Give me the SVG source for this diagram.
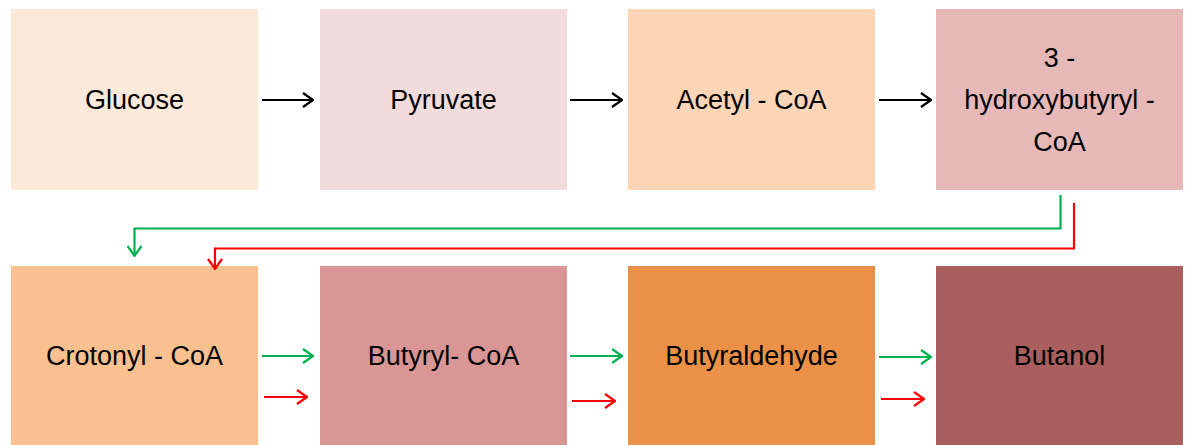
<svg xmlns="http://www.w3.org/2000/svg" width="1186" height="445" viewBox="0 0 1186 445">
<style>
.t{font-family:"Liberation Sans",Arial,sans-serif;font-size:27px;fill:#000;text-anchor:middle;dominant-baseline:central}
.c{fill:none;stroke-width:2.2}
.k{stroke:#000}
.g{stroke:#00B050}
.r{stroke:#FF0000}
</style>
<defs>
<marker id="ak" viewBox="0 0 12 16" refX="11" refY="8" markerWidth="12" markerHeight="16" markerUnits="userSpaceOnUse" orient="auto"><path d="M1,1 L11,8 L1,15" fill="none" stroke="#000" stroke-width="2.2"/></marker>
<marker id="ag" viewBox="0 0 12 16" refX="11" refY="8" markerWidth="12" markerHeight="16" markerUnits="userSpaceOnUse" orient="auto"><path d="M1,1 L11,8 L1,15" fill="none" stroke="#00B050" stroke-width="2.2"/></marker>
<marker id="ar" viewBox="0 0 12 16" refX="11" refY="8" markerWidth="12" markerHeight="16" markerUnits="userSpaceOnUse" orient="auto"><path d="M1,1 L11,8 L1,15" fill="none" stroke="#FF0000" stroke-width="2.2"/></marker>
</defs>
<rect width="1186" height="445" fill="#fff"/>
<g id="glucose"><rect x="11" y="9" width="247" height="181" fill="#FCE9DA"/><text class="t" x="134.5" y="100">Glucose</text></g>
<g id="pyruvate"><rect x="320" y="9" width="247" height="181" fill="#F2DCDB"/><text class="t" x="443.5" y="100">Pyruvate</text></g>
<g id="acetyl-coa"><rect x="628" y="9" width="247" height="181" fill="#FBD5B5"/><text class="t" x="751.5" y="100">Acetyl - CoA</text></g>
<g id="hydroxybutyryl-coa"><rect x="936" y="9" width="247" height="181" fill="#E6B9B8"/><text class="t" x="1059.5" y="58">3 -</text><text class="t" x="1059.5" y="100">hydroxybutyryl -</text><text class="t" x="1059.5" y="142">CoA</text></g>
<g id="crotonyl-coa"><rect x="11" y="266" width="247" height="181" fill="#FAC090"/><text class="t" x="134.5" y="356">Crotonyl - CoA</text></g>
<g id="butyryl-coa"><rect x="320" y="266" width="247" height="181" fill="#D99694"/><text class="t" x="443.5" y="356">Butyryl- CoA</text></g>
<g id="butyraldehyde"><rect x="628" y="266" width="247" height="181" fill="#EB9147"/><text class="t" x="751.5" y="356">Butyraldehyde</text></g>
<g id="butanol"><rect x="936" y="266" width="247" height="181" fill="#A95F5D"/><text class="t" x="1059.5" y="356">Butanol</text></g>
<g id="connectors">
<path class="c k" d="M262,100 H313" marker-end="url(#ak)"/>
<path class="c k" d="M570,100 H622" marker-end="url(#ak)"/>
<path class="c k" d="M879,100 H931" marker-end="url(#ak)"/>
<path class="c g" d="M1060.5,195 V228.5 H134.5 V256" marker-end="url(#ag)"/>
<path class="c r" d="M1074,203 V248.5 H215 V269" marker-end="url(#ar)"/>
<path class="c g" d="M262,356 H313" marker-end="url(#ag)"/>
<path class="c r" d="M264,397 H307" marker-end="url(#ar)"/>
<path class="c g" d="M570,356 H622" marker-end="url(#ag)"/>
<path class="c r" d="M572,401 H615" marker-end="url(#ar)"/>
<path class="c g" d="M879,357 H931" marker-end="url(#ag)"/>
<path class="c r" d="M881,399 H924" marker-end="url(#ar)"/>
</g>
</svg>
